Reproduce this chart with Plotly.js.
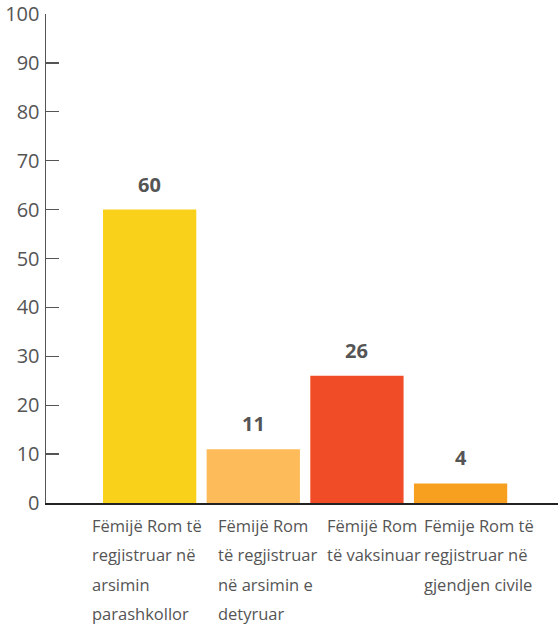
<!DOCTYPE html>
<html><head><meta charset="utf-8">
<script src="https://cdn.plot.ly/plotly-3.0.1.min.js"></script>
<style>body{margin:0;background:#fff}#chart{width:558px;height:624px}</style>
</head><body><div id="chart"></div>
<script>
const categories = ["c1", "c2", "c3", "c4"];
const categoryLabelLines = [
  ["Fëmijë Rom të", "regjistruar në", "arsimin", "parashkollor"],
  ["Fëmijë Rom", "të regjistruar", "në arsimin e", "detyruar"],
  ["Fëmijë Rom", "të vaksinuar"],
  ["Fëmije Rom të", "regjistruar në", "gjendjen civile"]
];
const values = [60, 11, 26, 4];
const colors = ["#F9D11A", "#FDBB5A", "#F04C27", "#F7A01F"];
const labelShifts = [-60, -37, -32, -39];
const tickVals = [0,10,20,30,40,50,60,70,80,90,100];

const annotations = [];
categories.forEach((c, i) => {
  annotations.push({x: c, y: values[i], xref: 'x', yref: 'y', text: String(values[i]),
    showarrow: false, yanchor: 'bottom', yshift: 10,
    font: {family: 'Open Sans, sans-serif', size: 20, color: '#555', weight: 'bold'}});
  categoryLabelLines[i].forEach((line, j) => {
    annotations.push({x: c, y: 0, xref: 'x', yref: 'y', text: line,
      showarrow: false, xanchor: 'left', yanchor: 'middle', align: 'left',
      xshift: labelShifts[i], yshift: -22 - 29.5 * j,
      font: {family: 'Open Sans, sans-serif', size: 16.5, color: '#555'}});
  });
});

Plotly.newPlot('chart', [{
  type: 'bar', x: categories, y: values,
  marker: {color: colors}, hoverinfo: 'none'
}], {
  width: 558, height: 624,
  margin: {l: 46, r: 0, t: 14, b: 121},
  paper_bgcolor: '#fff', plot_bgcolor: '#fff',
  bargap: 0.1,
  showlegend: false,
  xaxis: {range: [-1.0, 3.94], showticklabels: false, showline: true, linecolor: '#222', linewidth: 1.5,
    ticks: '', showgrid: false, zeroline: false, fixedrange: true},
  yaxis: {range: [0, 100], tickvals: tickVals, ticks: 'inside', ticklen: 13, tickcolor: '#555', tickwidth: 1.3,
    showline: true, linecolor: '#555', linewidth: 1.5, showgrid: false, zeroline: false,
    ticklabeloverflow: 'allow',
    tickfont: {family: 'Open Sans, sans-serif', size: 20, color: '#555'}, ticklabelstandoff: 1},
  annotations: annotations
}, {staticPlot: true});
</script></body></html>
